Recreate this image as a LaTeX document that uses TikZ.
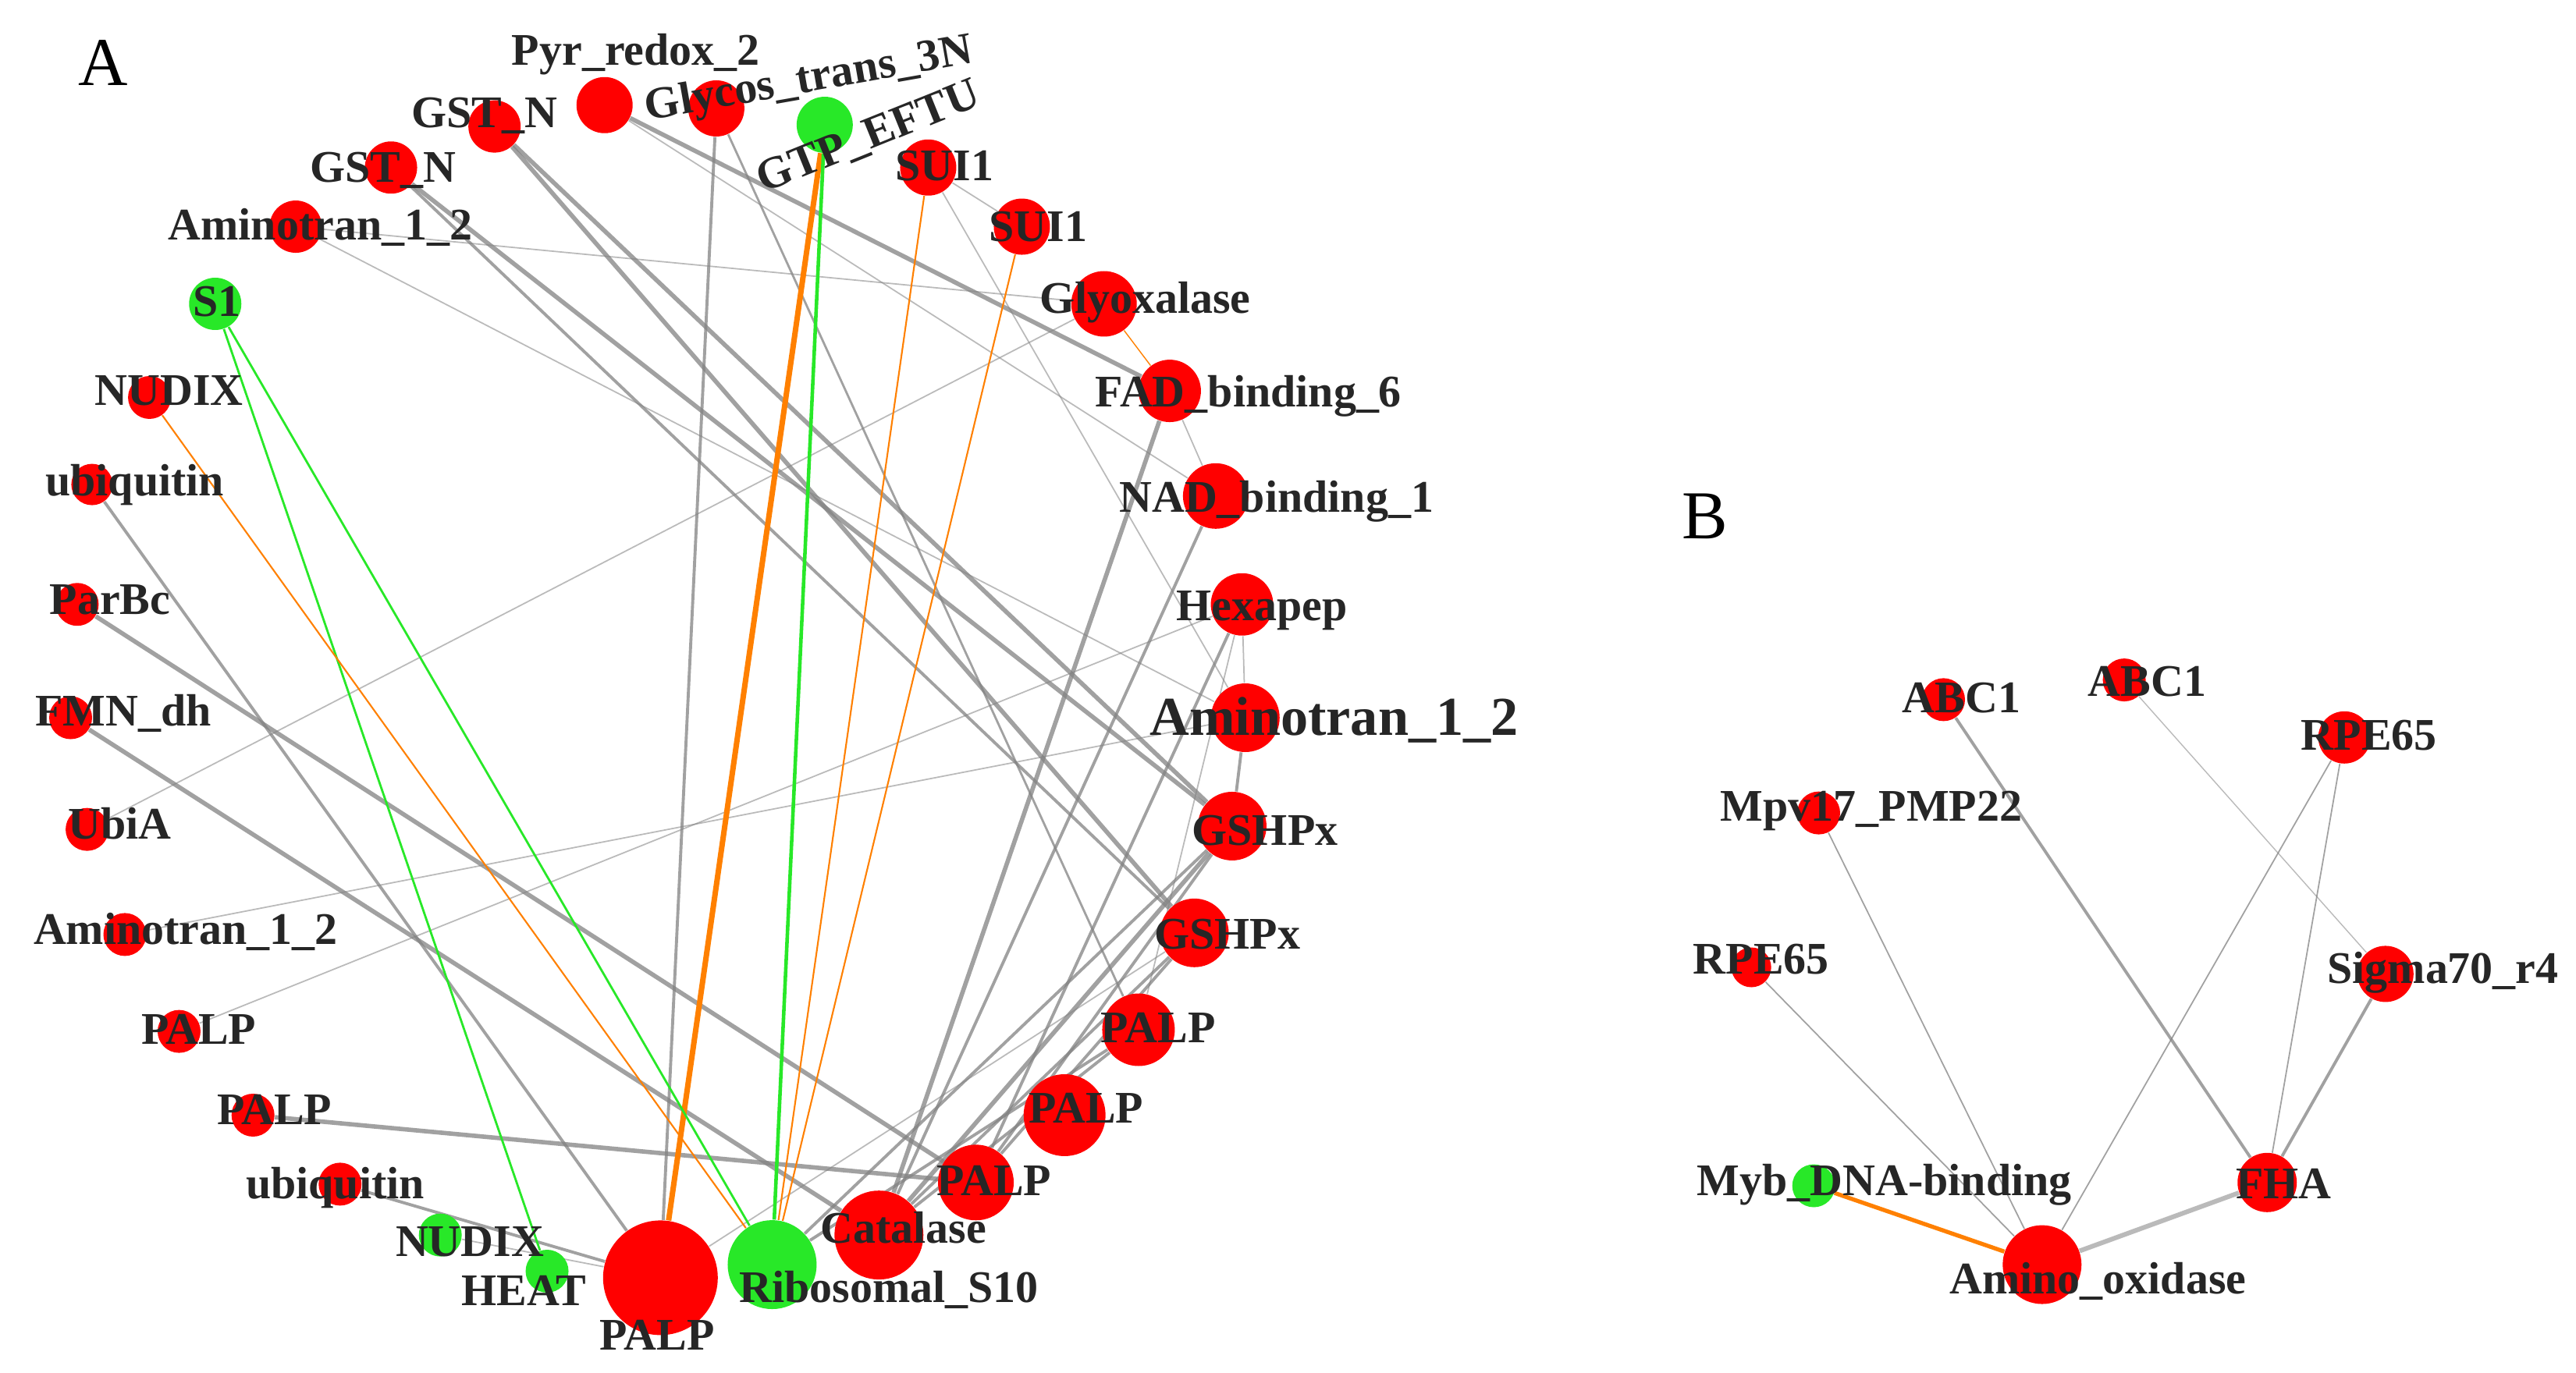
\documentclass[tikz,border=0pt]{standalone}
\usepackage{fontspec}
\setmainfont{Liberation Serif}
\usetikzlibrary{backgrounds}
\definecolor{rouge}{RGB}{255,0,0}
\definecolor{vert}{RGB}{40,232,40}
\definecolor{orangeb}{RGB}{255,128,0}
\definecolor{gris}{RGB}{130,130,130}
\definecolor{texte}{RGB}{38,38,38}
\begin{document}
\begin{tikzpicture}[x=0.02105cm, y=-0.02105cm]

    % Styles
    \tikzstyle{dom} = [circle, inner sep=0pt, fill=rouge, draw=none]
    \tikzstyle{domv} = [dom, fill=vert]
    \tikzstyle{lbl} = [font=\fontsize{16.5}{16.5}\selectfont\bfseries, text=texte, inner sep=0pt, anchor=mid, yshift=-4.2pt]
    \tikzstyle{lettre} = [font=\fontsize{25}{25}\selectfont, inner sep=0pt, anchor=mid, yshift=-5pt]
    \tikzstyle{lien} = [draw=gris, line width=1.1pt, opacity=0.75]
    \tikzstyle{fin} = [lien, line width=0.5pt, opacity=0.55]
    \tikzstyle{epais} = [lien, line width=1.6pt]
    \tikzstyle{lienor} = [draw=orangeb, line width=0.6pt]
    \tikzstyle{lienvt} = [draw=vert, line width=0.8pt]

    \useasboundingbox (0,0) rectangle (1568,835.6);

    % Noeuds A
    \node[lettre] (lettrea) at (63,40) {A};
    \node[dom, minimum size=1.47cm] (palpbig) at (402,778) {};
    \node[domv, minimum size=1.14cm] (ribo) at (470,770) {};
    \node[dom, minimum size=1.14cm] (cat) at (535,752) {};
    \node[dom, minimum size=0.97cm] (palpd) at (594,720) {};
    \node[dom, minimum size=1.05cm] (palpe) at (648,679) {};
    \node[dom, minimum size=0.93cm] (palpf) at (693,627) {};
    \node[dom, minimum size=0.88cm] (gshpxg) at (727,568) {};
    \node[dom, minimum size=0.88cm] (gshpxh) at (750,503) {};
    \node[dom, minimum size=0.88cm] (amii) at (758,437) {};
    \node[dom, minimum size=0.80cm] (hexa) at (756,368) {};
    \node[dom, minimum size=0.84cm] (nad) at (740,302) {};
    \node[dom, minimum size=0.80cm] (fad) at (712,238) {};
    \node[dom, minimum size=0.84cm] (glyox) at (672,185) {};
    \node[dom, minimum size=0.72cm] (suib) at (622,138) {};
    \node[dom, minimum size=0.72cm] (suia) at (565,102) {};
    \node[domv, minimum size=0.72cm] (gtp) at (502,76) {};
    \node[dom, minimum size=0.72cm] (glycos) at (436,66) {};
    \node[dom, minimum size=0.72cm] (pyr) at (368,64) {};
    \node[dom, minimum size=0.67cm] (gsta) at (301,77) {};
    \node[dom, minimum size=0.67cm] (gstb) at (238,102) {};
    \node[dom, minimum size=0.67cm] (amia) at (180,138) {};
    \node[domv, minimum size=0.67cm] (sone) at (131,185) {};
    \node[dom, minimum size=0.55cm] (nudixa) at (91,242) {};
    \node[dom, minimum size=0.53cm] (ubqa) at (56,295) {};
    \node[dom, minimum size=0.55cm] (parbc) at (47,368) {};
    \node[dom, minimum size=0.55cm] (fmn) at (43,437) {};
    \node[dom, minimum size=0.55cm] (ubia) at (53,505) {};
    \node[dom, minimum size=0.55cm] (amib) at (76,569) {};
    \node[dom, minimum size=0.55cm] (palpa) at (109,628) {};
    \node[dom, minimum size=0.55cm] (palpb) at (154,679) {};
    \node[dom, minimum size=0.55cm] (ubqb) at (207,721) {};
    \node[domv, minimum size=0.55cm] (nudixb) at (268,752) {};
    \node[domv, minimum size=0.55cm] (heat) at (333,774) {};

    % Noeuds B
    \node[lettre] (lettreb) at (1038,316) {B};
    \node[dom, minimum size=0.55cm] (abca) at (1183,426) {};
    \node[dom, minimum size=0.55cm] (abcb) at (1293,414) {};
    \node[dom, minimum size=0.67cm] (rpea) at (1427,449) {};
    \node[dom, minimum size=0.55cm] (mpv) at (1107,495) {};
    \node[dom, minimum size=0.51cm] (rpeb) at (1066,589) {};
    \node[dom, minimum size=0.72cm] (sigma) at (1452,593) {};
    \node[domv, minimum size=0.55cm] (myb) at (1104,722) {};
    \node[dom, minimum size=0.76cm] (fha) at (1380,720) {};
    \node[dom, minimum size=1.01cm] (amox) at (1243,770) {};

    % Aretes
    \begin{pgfonlayer}{background}
    \draw[lien] (glycos) -- (palpbig);
    \draw[lien, line width=0.8pt] (glycos) -- (palpf);
    \draw[epais] (pyr) -- (fad);
    \draw[fin] (pyr) -- (nad);
    \draw[epais] (gsta) -- (gshpxh);
    \draw[epais] (gsta) -- (gshpxg);
    \draw[epais] (gstb) -- (gshpxh);
    \draw[lien] (gstb) -- (gshpxg);
    \draw[fin] (amia) -- (glyox);
    \draw[fin] (amia) -- (amii);
    \draw[fin] (ubia) -- (glyox);
    \draw[fin] (amib) -- (amii);
    \draw[fin] (palpa) -- (hexa);
    \draw[epais] (parbc) -- (palpd);
    \draw[epais] (fmn) -- (cat);
    \draw[lien] (ubqa) -- (palpbig);
    \draw[epais] (palpb) -- (palpd);
    \draw[lien] (ubqb) -- (palpbig);
    \draw[fin] (nudixb) -- (palpbig);
    \draw[epais] (fad) -- (cat);
    \draw[lien] (nad) -- (cat);
    \draw[lien] (hexa) -- (palpd);
    \draw[fin] (hexa) -- (palpf);
    \draw[lien] (amii) -- (gshpxh);
    \draw[epais] (gshpxh) -- (cat);
    \draw[lien] (gshpxg) -- (cat);
    \draw[lien] (gshpxh) -- (palpd);
    \draw[lien] (gshpxg) -- (palpd);
    \draw[lien] (ribo) -- (gshpxh);
    \draw[lien] (ribo) -- (palpf);
    \draw[fin] (palpbig) -- (gshpxg);
    \draw[lien] (palpf) -- (cat);
    \draw[fin] (suia) -- (suib);
    \draw[fin] (fad) -- (nad);
    \draw[fin] (hexa) -- (amii);
    \draw[fin] (suia) -- (amii);
    \draw[lienor, line width=0.4pt] (glyox) -- (fad);
    \draw[lienor, line width=2pt] (gtp) -- (palpbig);
    \draw[lienvt, line width=1.3pt] (gtp) -- (ribo);
    \draw[lienvt] (sone) -- (heat);
    \draw[lienvt] (sone) -- (ribo);
    \draw[lienor] (nudixa) -- (ribo);
    \draw[lienor] (suia) -- (ribo);
    \draw[lienor] (suib) -- (ribo);
    % B
    \draw[lien] (abca) -- (fha);
    \draw[fin, line width=0.4pt] (abcb) -- (sigma);
    \draw[fin, opacity=0.75] (rpea) -- (amox);
    \draw[fin, opacity=0.75] (rpea) -- (fha);
    \draw[fin, opacity=0.75] (mpv) -- (amox);
    \draw[fin, opacity=0.75] (rpeb) -- (amox);
    \draw[lien] (sigma) -- (fha);
    \draw[lienor, line width=1.5pt] (myb) -- (amox);
    \draw[lien, line width=1.7pt, opacity=0.55] (fha) -- (amox);
    \end{pgfonlayer}

    % Etiquettes A
    \node[lbl] (palpbigt) at (400,811) {PALP};
    \node[lbl] (ribot) at (541,782) {Ribosomal\_S10};
    \node[lbl] (catt) at (550,746) {Catalase};
    \node[lbl] (palpdt) at (605,717) {PALP};
    \node[lbl] (palpet) at (661,673) {PALP};
    \node[lbl] (palpft) at (705,624) {PALP};
    \node[lbl] (gshpxgt) at (747,567) {GSHPx};
    \node[lbl] (gshpxht) at (770,504) {GSHPx};
    \node[lbl, font=\fontsize{20}{20}\selectfont\bfseries] (amiit) at (812,437) {Aminotran\_1\_2};
    \node[lbl] (hexat) at (768,367) {Hexapep};
    \node[lbl] (nadt) at (777,301) {NAD\_binding\_1};
    \node[lbl] (fadt) at (760,237) {FAD\_binding\_6};
    \node[lbl] (glyoxt) at (697,180) {Glyoxalase};
    \node[lbl] (suibt) at (632,136) {SUI1};
    \node[lbl] (suiat) at (575,99) {SUI1};
    \node[lbl, rotate=22] (gtpt) at (530,80) {GTP\_EFTU};
    \node[lbl, rotate=10] (glycost) at (493,45) {Glycos\_trans\_3N};
    \node[lbl] (pyrt) at (387,29) {Pyr\_redox\_2};
    \node[lbl] (gstat) at (295,67) {GST\_N};
    \node[lbl] (gstbt) at (233,100) {GST\_N};
    \node[lbl] (amiat) at (195,135) {Aminotran\_1\_2};
    \node[lbl] (sonet) at (132,182) {S1};
    \node[lbl] (nudixat) at (103,236) {NUDIX};
    \node[lbl] (ubqat) at (82,291) {ubiquitin};
    \node[lbl] (parbct) at (67,363) {ParBc};
    \node[lbl] (fmnt) at (75,431) {FMN\_dh};
    \node[lbl] (ubiat) at (73,500) {UbiA};
    \node[lbl] (amibt) at (113,564) {Aminotran\_1\_2};
    \node[lbl] (palpat) at (121,625) {PALP};
    \node[lbl] (palpbt) at (167,674) {PALP};
    \node[lbl] (ubqbt) at (204,719) {ubiquitin};
    \node[lbl] (nudixbt) at (286,754) {NUDIX};
    \node[lbl] (heatt) at (319,784) {HEAT};

    % Etiquettes B
    \node[lbl] (abcat) at (1194,423) {ABC1};
    \node[lbl] (abcbt) at (1307,413) {ABC1};
    \node[lbl] (rpeat) at (1442,446) {RPE65};
    \node[lbl] (mpvt) at (1139,489) {Mpv17\_PMP22};
    \node[lbl] (rpebt) at (1072,582) {RPE65};
    \node[lbl] (sigmat) at (1487,588) {Sigma70\_r4};
    \node[lbl] (mybt) at (1147,717) {Myb\_DNA-binding};
    \node[lbl] (fhat) at (1390,719) {FHA};
    \node[lbl] (amoxt) at (1277,777) {Amino\_oxidase};

\end{tikzpicture}
\end{document}
